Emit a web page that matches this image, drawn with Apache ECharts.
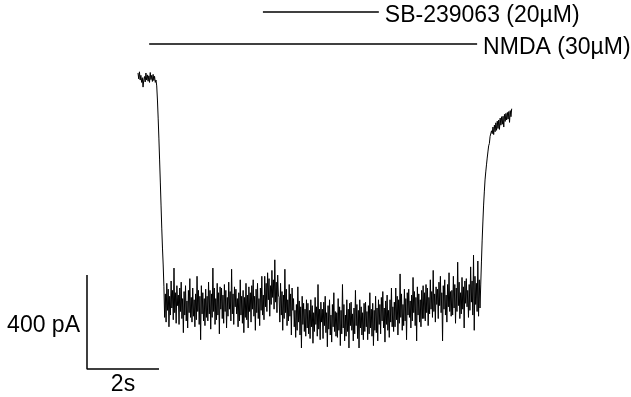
<!DOCTYPE html>
<html>
<head>
<meta charset="utf-8">
<script src="https://cdn.jsdelivr.net/npm/echarts@6/dist/echarts.min.js"></script>
<style>
html,body{margin:0;padding:0;background:#ffffff;}
#chart{width:631px;height:397px;}
</style>
</head>
<body>
<div id="chart"></div>
<script>
// ---------------- DATA ----------------
// whole-cell current trace, sampled every 20 ms (pA, 0 = holding level before NMDA)
const sampleIntervalS = 0.02;
const currentPA = [
  // start of trace (baseline)
  0, -25, 5, -30, -10, -40, -20, -60, -30, -15, -38, 0, -30, -8, -35, -12, -40, 2, -28, -10, -36, -6, -32, -14, -40, -30,
  // fall
  -55, -115, -192, -277, -370, -464, -562, -660, -745, -817,
  // steady NMDA current (noisy)
  -910, -1040, -940, -1060, -895, -1010, -920, -1080, -950, -1030, -885, -1000, -925, -1050, -830, -1020, -935, -1065, -905, -990,
  -945, -1070, -915, -1015, -890, -1045, -960, -1105, -930, -1030, -905, -1055, -970, -1085, -925, -1020, -875, -1040, -955, -1060,
  -915, -1035, -965, -1080, -940, -1050, -865, -1015, -925, -1070, -950, -1135, -905, -1025, -935, -1055, -960, -1075, -920, -1040,
  -950, -1055, -890, -1025, -925, -1090, -940, -1040, -830, -1015, -915, -1070, -960, -1050, -895, -1030, -935, -1110, -910, -1005,
  -915, -1045, -945, -1065, -900, -1015, -925, -1085, -955, -1035, -890, -1005, -930, -1055, -835, -1025, -940, -1070, -910, -995,
  -920, -1025, -960, -1080, -935, -1055, -880, -1030, -950, -1065, -925, -1105, -955, -1040, -895, -1050, -945, -1085, -910, -1015,
  -935, -1060, -905, -1005, -880, -1035, -950, -1095, -920, -1020, -895, -1045, -960, -1075, -915, -1010, -865, -1030, -945, -1050,
  -865, -995, -895, -1015, -850, -965, -875, -1035, -905, -985, -840, -955, -880, -1005, -795, -975, -890, -1020, -860, -945,
  -955, -1060, -895, -1030, -930, -1095, -945, -1045, -835, -1020, -920, -1075, -965, -1055, -900, -1035, -940, -1115, -915, -1010,
  -960, -1080, -1010, -1125, -985, -1095, -910, -1060, -970, -1115, -995, -1170, -950, -1070, -980, -1100, -1005, -1120, -965, -1085,
  -980, -1110, -1010, -1130, -965, -1080, -990, -1150, -1020, -1100, -955, -1070, -995, -1120, -900, -1090, -1005, -1135, -975, -1060,
  -1005, -1130, -975, -1075, -950, -1105, -1020, -1165, -990, -1090, -965, -1115, -1030, -1145, -985, -1080, -935, -1100, -1015, -1120,
  -1020, -1125, -960, -1095, -995, -1160, -1010, -1110, -900, -1085, -985, -1140, -1030, -1120, -965, -1100, -1005, -1170, -980, -1075,
  -975, -1095, -1025, -1140, -1000, -1110, -925, -1075, -985, -1130, -1010, -1170, -965, -1085, -995, -1115, -1020, -1135, -980, -1100,
  -975, -1080, -1015, -1135, -990, -1110, -935, -1085, -1005, -1120, -980, -1160, -1010, -1095, -950, -1105, -1000, -1140, -965, -1070,
  -985, -1110, -955, -1055, -930, -1085, -1000, -1145, -970, -1070, -945, -1095, -1010, -1125, -965, -1060, -915, -1080, -995, -1100,
  -975, -1080, -915, -1050, -950, -1115, -965, -1065, -855, -1040, -940, -1095, -985, -1075, -920, -1055, -960, -1135, -935, -1030,
  -920, -1040, -970, -1085, -945, -1055, -870, -1020, -930, -1075, -955, -1140, -910, -1030, -940, -1060, -965, -1080, -925, -1045,
  -905, -1045, -935, -1055, -900, -1020, -915, -1075, -955, -1025, -880, -1005, -930, -1040, -840, -1015, -940, -1060, -910, -985,
  -920, -1045, -890, -990, -865, -1020, -935, -1140, -905, -1005, -880, -1030, -945, -1060, -900, -995, -850, -1015, -930, -1035,
  -925, -1030, -865, -1000, -900, -1065, -915, -1015, -805, -990, -890, -1045, -935, -1025, -870, -1005, -910, -1085, -885, -980,
  -875, -995, -925, -1040, -900, -1010, -825, -975, -885, -1030, -775, -1095, -865, -985, -895, -1015, -800, -1035, -880, -1000,
  // washout / recovery
  -902, -804, -711, -634, -562, -506, -455, -421, -391, -362, -336, -310, -300, -270, -272, -246, -258,
  -230, -262, -222, -250, -212, -244, -205, -236, -200, -240, -192, -222, -186, -218, -184, -230, -176, -206,
  -172, -200, -168, -196, -164, -210, -160, -186, -152
];

// drug application periods (s from trace start)
const drugNames = ['NMDA (30µM)', 'SB-239063 (20µM)'];
const drugStartS = [0.31, 3.47];
const drugEndS = [9.42, 6.69];

// scale bars
const scaleBarCurrentPA = 400;
const scaleBarTimeS = 2;
const scaleBarLabels = ['400 pA', '2s'];

// ---------------- LAYOUT ----------------
const xRange = [-3.8333, 13.6944];
const yRange = [-1378.7, 310.6];
const drugBarLevelPA = [123.4, 259.6];
const scaleOrigin = [-1.4167, -1259.6];
const textFont = 'Liberation Sans, Arial, sans-serif';
const textSize = 23;

const trace = currentPA.map((v, i) => [+(i * sampleIntervalS).toFixed(3), v]);

const series = [];
series.push({
  type: 'line', data: trace, showSymbol: false, symbol: 'none',
  lineStyle: { color: '#000', width: 1 }, silent: true, z: 3
});

drugNames.forEach((name, k) => {
  series.push({
    type: 'line',
    data: [[drugStartS[k], drugBarLevelPA[k]], [drugEndS[k], drugBarLevelPA[k]]],
    showSymbol: false, symbol: 'none',
    lineStyle: { color: '#000', width: 1.3 }, silent: true,
    endLabel: {
      show: true, formatter: name, distance: 6, offset: [0, 4],
      color: '#000', fontFamily: textFont, fontSize: textSize
    }
  });
});

const [sx, sy] = scaleOrigin;
const labelStyle = { show: true, color: '#000', fontFamily: textFont, fontSize: textSize };
series.push({
  type: 'line',
  data: [[sx, sy + scaleBarCurrentPA], [sx, sy], [sx + scaleBarTimeS, sy]],
  showSymbol: false, symbol: 'none',
  lineStyle: { color: '#000', width: 1.5 }, silent: true
});
series.push({
  type: 'scatter', symbolSize: 0, silent: true,
  itemStyle: { color: '#000', opacity: 1 },
  data: [
    { value: [sx, sy + scaleBarCurrentPA / 2],
      label: Object.assign({}, labelStyle, { position: 'left', distance: 7, offset: [0, 4], formatter: scaleBarLabels[0] }) },
    { value: [sx + scaleBarTimeS / 2, sy],
      label: Object.assign({}, labelStyle, { position: 'bottom', distance: 4, formatter: scaleBarLabels[1] }) }
  ],
  label: labelStyle,
  emphasis: { disabled: true }
});

const chart = echarts.init(document.getElementById('chart'), null, { renderer: 'canvas' });
chart.setOption({
  animation: false,
  backgroundColor: '#ffffff',
  grid: { left: 0, right: 0, top: 0, bottom: 0, containLabel: false },
  xAxis: { type: 'value', min: xRange[0], max: xRange[1], show: false },
  yAxis: { type: 'value', min: yRange[0], max: yRange[1], show: false },
  series: series
});
</script>
</body>
</html>
